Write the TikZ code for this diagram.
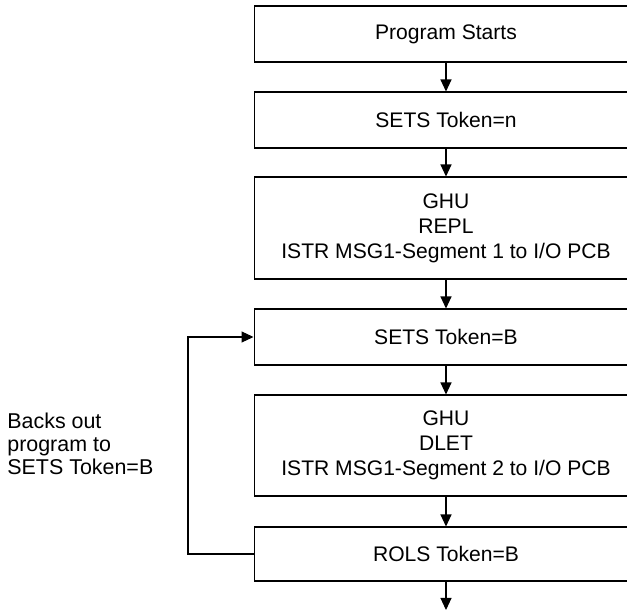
\documentclass[tikz,border=0pt]{standalone}
\usepackage{fontspec}
\setmainfont{Liberation Sans}
\usetikzlibrary{arrows.meta}
\tikzset{
  stepbox/.style={
    draw=black,
    line width=0.6pt,
    minimum width=7.68cm,
    inner sep=0pt,
    align=center,
    font=\fontsize{12pt}{14.2pt}\selectfont
  },
  flow/.style={
    line width=0.6pt,
    -{Triangle[length=0.24cm,width=0.22cm]}
  },
  note/.style={
    align=left,
    inner sep=0pt,
    font=\fontsize{12.2pt}{13pt}\selectfont
  }
}

\begin{document}
\begin{tikzpicture}[x=0.02cm,y=-0.02cm]
  \useasboundingbox (0,0) rectangle (627,611);
  % boxes, top to bottom
  \node[stepbox, minimum height=1.12cm] (start) at (446,34) {Program Starts};
  \node[stepbox, minimum height=1.12cm] (setsn) at (446,120) {SETS Token=n};
  \node[stepbox, minimum height=2.04cm] (repl) at (446,228)
    {GHU\\REPL\\ISTR MSG1-Segment 1 to I/O PCB};
  \node[stepbox, minimum height=1.12cm] (setsb) at (446,337) {SETS Token=B};
  \node[stepbox, minimum height=2.02cm] (dlet) at (446,445.5)
    {GHU\\DLET\\ISTR MSG1-Segment 2 to I/O PCB};
  \node[stepbox, minimum height=1.08cm] (rols) at (446,554) {ROLS Token=B};
  \coordinate (end) at (446,610);
  % connectors
  \foreach \a/\b in {start/setsn,setsn/repl,repl/setsb,setsb/dlet,dlet/rols}
    \draw[flow] (\a) -- (\b);
  \draw[flow] (rols.south) -- (end);
  \coordinate (turn) at (188,554);
  \draw[flow] (rols.west) -- (turn) |- (setsb.west);
  \node[note, anchor=west] (backout) at (7,444)
    {Backs out\\program to\\SETS Token=B};
\end{tikzpicture}
\end{document}
